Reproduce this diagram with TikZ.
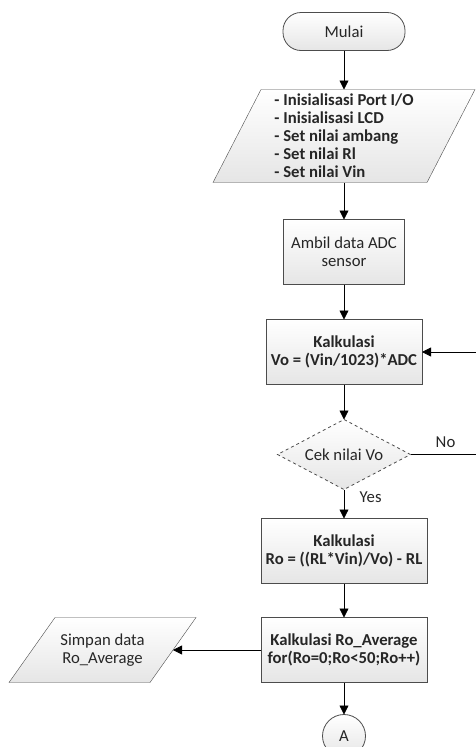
\documentclass[tikz,border=0pt]{standalone}
\usepackage{fontspec}
\setmainfont{Carlito}
\usetikzlibrary{positioning,shadings,shapes.geometric,backgrounds}
\usetikzlibrary{arrows.meta}

\begin{document}
\begin{tikzpicture}[thick, >={Triangle[length=9pt,width=9pt]},
  every node/.style = {font = \fontsize{16.7}{18}\selectfont, text = black!85},
  box/.style = {draw = black!70, top color = white, bottom color = black!10,
    outer sep = 0pt, inner sep = 2pt},
  proc/.style = {box, rectangle, align = center, minimum height = 65pt,
    font = \fontsize{16.7}{18}\selectfont\bfseries},
  io/.style = {rectangle, outer sep = 0pt, inner sep = 2pt}]
  \useasboundingbox (0,0) rectangle (475pt,-747pt);

  \node (Mulai) [box, rectangle, rounded corners = 18pt, minimum width = 122pt,
    minimum height = 38pt] at (344pt,-31.5pt) {Mulai};
  \node (Init) [io, minimum width = 214pt, minimum height = 93pt, align = left,
    font = \fontsize{16.7}{18}\selectfont\bfseries, below = 39pt of Mulai]
    {- Inisialisasi Port I/O\\- Inisialisasi LCD\\- Set nilai ambang\\- Set nilai Rl\\- Set nilai Vin};
  \node (Ambil) [proc, font = \fontsize{16.7}{18}\selectfont, minimum width = 121pt,
    below = 37pt of Init] {Ambil data ADC\\sensor};
  \node (HitungVo) [proc, minimum width = 156pt, below = 35pt of Ambil]
    {Kalkulasi\\Vo = (Vin/1023)*ADC};
  \node (CekVo) [box, diamond, dashed, aspect = 2, minimum width = 133pt,
    minimum height = 70pt, inner sep = 0pt, below = 35pt of HitungVo] {Cek nilai Vo};
  \node (HitungRo) [proc, minimum width = 166pt, below = 29pt of CekVo]
    {Kalkulasi\\Ro = ((RL*Vin)/Vo) - RL};
  \node (RataRo) [proc, minimum width = 166pt, below = 34pt of HitungRo]
    {Kalkulasi Ro\_Average\\for(Ro=0;Ro<50;Ro++)};
  \node (Simpan) [io, minimum width = 141pt, minimum height = 65pt, align = center,
    left = 88pt of RataRo] {Simpan data\\Ro\_Average};
  \node (A) [box, circle, minimum size = 43pt, inner sep = 0pt, below = 32pt of RataRo] {A};
  \coordinate [right = 70pt of CekVo.east] (Balik);

  % slanted input/output boxes behind their texts
  \begin{scope}[on background layer]
    \path [box] ([xshift = 24pt]Init.north west) -- ([xshift = 24pt]Init.north east)
      -- ([xshift = -24pt]Init.south east) -- ([xshift = -24pt]Init.south west) -- cycle;
    \path [box] ([xshift = 23pt]Simpan.north west) -- ([xshift = 23pt]Simpan.north east)
      -- ([xshift = -23pt]Simpan.south east) -- ([xshift = -23pt]Simpan.south west) -- cycle;
  \end{scope}

  \draw [->] (Mulai) -- (Init);
  \draw [->] (Init) -- (Ambil);
  \draw [->] (Ambil) -- (HitungVo);
  \draw [->] (HitungVo) -- (CekVo);
  \draw [->] (CekVo) -- node [pos = 0.25, right = 12pt] {Yes} (HitungRo);
  \draw [->] (HitungRo) -- (RataRo);
  \draw [->] (RataRo) -- (Simpan);
  \draw [->] (RataRo) -- (A);
  \draw (CekVo) -- node [above = 3pt] {No} (Balik);
  \draw [->] (Balik) |- (HitungVo);

\end{tikzpicture}
\end{document}
